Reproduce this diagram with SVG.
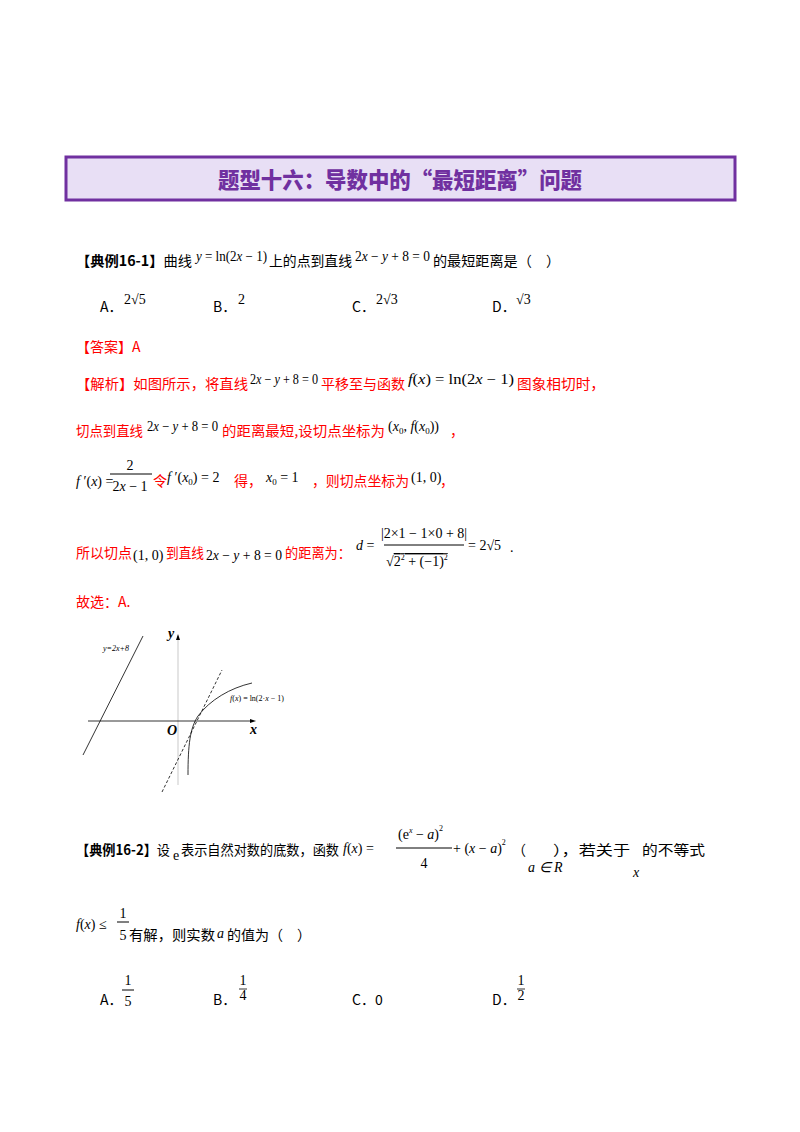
<svg xmlns="http://www.w3.org/2000/svg" width="800" height="1132" viewBox="0 0 800 1132">
<style>
.c{font-family:"Noto Sans CJK SC",sans-serif;font-size:14px;fill:#000}
.r{fill:#ff0000}
.m{font-family:"Liberation Serif",serif;font-size:14px;fill:#000}
.i{font-style:italic}
.b{font-weight:bold}
.s{font-family:"Liberation Serif",serif;font-size:8px;fill:#000}
</style>
<rect width="800" height="1132" fill="#fff"/>
<g id="title">
<rect x="66" y="157" width="669" height="43" fill="#e8dff5" stroke="#7030a0" stroke-width="3"/>
<text x="400" y="188" text-anchor="middle" font-family="Noto Sans CJK SC,sans-serif" font-size="22" font-weight="900" fill="#7030a0" textLength="364" lengthAdjust="spacingAndGlyphs">题型十六：导数中的“最短距离”问题</text>
</g>
<g id="q1">
<text x="76" y="266" class="c" textLength="116" lengthAdjust="spacingAndGlyphs"><tspan class="b">【典例16-1】</tspan>曲线</text>
<text x="196" y="261" class="m" textLength="71" lengthAdjust="spacingAndGlyphs"><tspan class="i">y</tspan> = ln(2<tspan class="i">x</tspan> − 1)</text>
<text x="269" y="266" class="c" textLength="83" lengthAdjust="spacingAndGlyphs">上的点到直线</text>
<text x="355" y="261" class="m" textLength="75" lengthAdjust="spacingAndGlyphs">2<tspan class="i">x</tspan> − <tspan class="i">y</tspan> + 8 = 0</text>
<text x="433" y="266" class="c" textLength="127" lengthAdjust="spacingAndGlyphs">的最短距离是（　）</text>
<text x="100" y="312" class="c">A．</text><text x="124" y="304" class="m">2√5</text>
<text x="213" y="312" class="c">B．</text><text x="238" y="304" class="m">2</text>
<text x="352" y="312" class="c">C．</text><text x="376" y="304" class="m">2√3</text>
<text x="492" y="312" class="c">D．</text><text x="516" y="304" class="m">√3</text>
</g>
<g id="answer">
<text x="76" y="352" class="c r">【答案】A</text>
<text x="76" y="389" class="c r" textLength="172" lengthAdjust="spacingAndGlyphs">【解析】如图所示，将直线</text>
<text x="250" y="384" class="m" textLength="68" lengthAdjust="spacingAndGlyphs">2<tspan class="i">x</tspan> − <tspan class="i">y</tspan> + 8 = 0</text>
<text x="321" y="389" class="c r" textLength="84" lengthAdjust="spacingAndGlyphs">平移至与函数</text>
<text x="408" y="384" class="m" textLength="106" lengthAdjust="spacingAndGlyphs"><tspan class="i">f</tspan>(<tspan class="i">x</tspan>) = ln(2<tspan class="i">x</tspan> − 1)</text>
<text x="517" y="389" class="c r" textLength="88" lengthAdjust="spacingAndGlyphs">图象相切时，</text>
<text x="76" y="436" class="c r" textLength="67" lengthAdjust="spacingAndGlyphs">切点到直线</text>
<text x="147" y="431" class="m" textLength="71" lengthAdjust="spacingAndGlyphs">2<tspan class="i">x</tspan> − <tspan class="i">y</tspan> + 8 = 0</text>
<text x="222" y="436" class="c r" textLength="163" lengthAdjust="spacingAndGlyphs">的距离最短,设切点坐标为</text>
<text x="388" y="431" class="m">(<tspan class="i">x</tspan><tspan font-size="9" dy="3">0</tspan><tspan dy="-3">, </tspan><tspan class="i">f</tspan>(<tspan class="i">x</tspan><tspan font-size="9" dy="3">0</tspan><tspan dy="-3">))</tspan></text>
<text x="450" y="436" class="c r">，</text>
<text x="76" y="486" class="m"><tspan class="i">f</tspan> ′(<tspan class="i">x</tspan>) =</text>
<text x="130" y="470" class="m" text-anchor="middle">2</text>
<line x1="110" y1="474" x2="152" y2="474" stroke="#000" stroke-width="1"/>
<text x="130" y="491" class="m" text-anchor="middle">2<tspan class="i">x</tspan> − 1</text>
<text x="153" y="486" class="c r">令</text>
<text x="167" y="482" class="m"><tspan class="i">f</tspan> ′(<tspan class="i">x</tspan><tspan font-size="9" dy="3">0</tspan><tspan dy="-3">) = 2</tspan></text>
<text x="234" y="486" class="c r">得，</text>
<text x="266" y="482" class="m"><tspan class="i">x</tspan><tspan font-size="9" dy="3">0</tspan><tspan dy="-3"> = 1</tspan></text>
<text x="312" y="486" class="c r" textLength="97" lengthAdjust="spacingAndGlyphs">，则切点坐标为</text>
<text x="411" y="482" class="m">(1, 0)</text>
<text x="440" y="486" class="c r">，</text>
<text x="76" y="558" class="c r">所以切点</text>
<text x="133" y="560" class="m">(1, 0)</text>
<text x="166" y="558" class="c r" textLength="38" lengthAdjust="spacingAndGlyphs">到直线</text>
<text x="206" y="560" class="m" textLength="76" lengthAdjust="spacingAndGlyphs">2<tspan class="i">x</tspan> − <tspan class="i">y</tspan> + 8 = 0</text>
<text x="285" y="558" class="c r" textLength="66" lengthAdjust="spacingAndGlyphs">的距离为：</text>
<text x="356" y="550" class="m"><tspan class="i">d</tspan> =</text>
<text x="424" y="538" class="m" text-anchor="middle">|2×1 − 1×0 + 8|</text>
<line x1="384" y1="545" x2="464" y2="545" stroke="#000" stroke-width="1"/>
<text x="386" y="566" class="m">√<tspan text-decoration="overline">2<tspan font-size="8" dy="-6">2</tspan><tspan dy="6"> + (−1)</tspan><tspan font-size="8" dy="-6">2</tspan></tspan></text>
<text x="468" y="550" class="m">= 2√5</text>
<text x="510" y="552" class="m">.</text>
<text x="76" y="607" class="c r">故选：A.</text>
</g>
<g id="graph" fill="none" stroke="#000">
<line x1="178" y1="636" x2="178" y2="785" stroke="#bbb" stroke-width="0.8"/>
<polygon points="178,634 176,640 180,640" fill="#000" stroke="none"/>
<line x1="88" y1="721" x2="252" y2="721" stroke-width="0.8"/>
<polygon points="256,721 250,719 250,723" fill="#000" stroke="none"/>
<line x1="143" y1="636" x2="83" y2="755" stroke-width="0.8"/>
<line x1="162" y1="792" x2="222" y2="670" stroke-width="0.8" stroke-dasharray="3,2"/>
<path d="M188,775 C188,745 190,728 198,716 C210,700 230,688 252,683" stroke-width="0.8"/>
<text x="103" y="651" class="s i" stroke="none">y=2x+8</text>
<text x="230" y="701" class="s" stroke="none"><tspan class="i">f</tspan>(<tspan class="i">x</tspan>) = ln(2·<tspan class="i">x</tspan> − 1)</text>
<text x="167" y="735" class="m i b" font-size="11" stroke="none">O</text>
<text x="250" y="734" class="m i b" font-size="11" stroke="none">x</text>
<text x="168" y="638" class="m i b" font-size="11" stroke="none">y</text>
</g>
<g id="q2">
<text x="76" y="855" class="c" textLength="94" lengthAdjust="spacingAndGlyphs"><tspan class="b">【典例16-2】</tspan>设</text>
<text x="173" y="860" class="m" font-size="11">e</text>
<text x="181" y="855" class="c" textLength="158" lengthAdjust="spacingAndGlyphs">表示自然对数的底数，函数</text>
<text x="343" y="853" class="m"><tspan class="i">f</tspan>(<tspan class="i">x</tspan>) =</text>
<text x="398" y="839" class="m">(e<tspan font-size="8" dy="-6" class="i">x</tspan><tspan dy="6"> − </tspan><tspan class="i">a</tspan>)<tspan font-size="8" dy="-8">2</tspan></text>
<line x1="396" y1="848" x2="452" y2="848" stroke="#000" stroke-width="1"/>
<text x="424" y="868" class="m" text-anchor="middle">4</text>
<text x="453" y="853" class="m">+ (<tspan class="i">x</tspan> − <tspan class="i">a</tspan>)<tspan font-size="8" dy="-8">2</tspan></text>
<text x="512" y="855" class="c">（</text>
<text x="528" y="872" class="m i">a ∈ R</text>
<text x="553" y="855" class="c" textLength="77" lengthAdjust="spacingAndGlyphs">），若关于</text>
<text x="633" y="877" class="m i">x</text>
<text x="642" y="855" class="c" textLength="63" lengthAdjust="spacingAndGlyphs">的不等式</text>
<text x="76" y="929" class="m"><tspan class="i">f</tspan>(<tspan class="i">x</tspan>) ≤</text>
<text x="123" y="918" class="m" text-anchor="middle">1</text>
<line x1="117" y1="922" x2="129" y2="922" stroke="#000" stroke-width="1"/>
<text x="123" y="940" class="m" text-anchor="middle">5</text>
<text x="129" y="940" class="c" textLength="86" lengthAdjust="spacingAndGlyphs">有解，则实数</text>
<text x="217" y="938" class="m i">a</text>
<text x="227" y="940" class="c">的值为（　）</text>
<text x="100" y="1005" class="c">A．</text>
<text x="128" y="985" class="m" text-anchor="middle">1</text>
<line x1="122" y1="990" x2="134" y2="990" stroke="#000" stroke-width="1"/>
<text x="128" y="1006" class="m" text-anchor="middle">5</text>
<text x="213" y="1005" class="c">B．</text>
<text x="243" y="985" class="m" font-size="10" text-anchor="middle">1</text>
<line x1="239" y1="989" x2="247" y2="989" stroke="#000" stroke-width="0.8"/>
<text x="243" y="1000" class="m" font-size="10" text-anchor="middle">4</text>
<text x="352" y="1005" class="c">C．0</text>
<text x="492" y="1005" class="c">D．</text>
<text x="521" y="985" class="m" font-size="10" text-anchor="middle">1</text>
<line x1="517" y1="989" x2="525" y2="989" stroke="#000" stroke-width="0.8"/>
<text x="521" y="1000" class="m" font-size="10" text-anchor="middle">2</text>
</g>
</svg>
